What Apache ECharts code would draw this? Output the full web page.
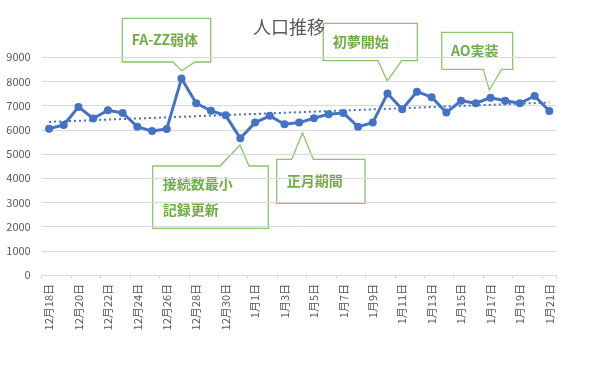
<!DOCTYPE html>
<html>
<head>
<meta charset="utf-8">
<script src="https://cdn.jsdelivr.net/npm/echarts@6/dist/echarts.min.js"></script>
<style>
html,body{margin:0;padding:0;background:#fff;}
#chart{width:594px;height:374px;}
</style>
</head>
<body>
<div id="chart"></div>
<script>
const categories = [
  '12月18日','12月19日','12月20日','12月21日','12月22日','12月23日','12月24日','12月25日','12月26日','12月27日',
  '12月28日','12月29日','12月30日','12月31日','1月1日','1月2日','1月3日','1月4日','1月5日','1月6日',
  '1月7日','1月8日','1月9日','1月10日','1月11日','1月12日','1月13日','1月14日','1月15日','1月16日',
  '1月17日','1月18日','1月19日','1月20日','1月21日'
];
const population = [
  6050, 6200, 6950, 6470, 6810, 6700, 6130, 5950, 6040, 8120,
  7100, 6790, 6600, 5650, 6300, 6580, 6230, 6300, 6480, 6650,
  6700, 6130, 6300, 7500, 6850, 7580, 7350, 6720, 7200, 7100,
  7330, 7200, 7100, 7400, 6780
];
// linear trendline endpoints
const trendEnds = [6330, 7130];
const yTicks = [0, 1000, 2000, 3000, 4000, 5000, 6000, 7000, 8000, 9000];

const green = '#70AD47';
const border = '#8CC46A';
const cjk = '"Noto Sans CJK JP", "Noto Sans", sans-serif';

function callout(points, texts) {
  const children = [{
    type: 'polygon',
    shape: { points: points },
    style: { fill: '#fff', stroke: border, lineWidth: 1.3 }
  }];
  texts.forEach(t => children.push({
    type: 'text',
    x: t[0], y: t[1],
    style: { text: t[2], fill: green, font: 'bold 14px ' + cjk, textVerticalAlign: 'middle', textAlign: 'left' }
  }));
  return { type: 'group', children: children, z: 100 };
}

const chart = echarts.init(document.getElementById('chart'), null, { renderer: 'canvas' });
chart.setOption({
  animation: false,
  backgroundColor: '#fff',
  title: {
    text: '人口推移',
    left: 248,
    top: 13,
    textStyle: { color: '#595959', fontSize: 18, fontWeight: 'normal', fontFamily: cjk }
  },
  grid: { left: 41.7, right: 37.3, top: 57.3, bottom: 99 },
  xAxis: {
    type: 'category',
    data: categories,
    boundaryGap: true,
    axisLine: { lineStyle: { color: '#d9d9d9', width: 1 } },
    axisTick: { show: true, interval: 1, length: 4, lineStyle: { color: '#d9d9d9' } },
    axisLabel: { interval: 1, rotate: 90, color: '#595959', fontSize: 11, margin: 9, fontFamily: cjk }
  },
  yAxis: {
    type: 'value',
    min: yTicks[0],
    max: yTicks[yTicks.length - 1],
    interval: 1000,
    axisLine: { show: false },
    axisTick: { show: false },
    axisLabel: { color: '#595959', fontSize: 11, margin: 11, fontFamily: cjk, formatter: v => String(v) },
    splitLine: { lineStyle: { color: '#d9d9d9', width: 1 } }
  },
  series: [{
    type: 'line',
    data: population,
    symbol: 'circle',
    symbolSize: 8,
    lineStyle: { color: '#4472C4', width: 3 },
    itemStyle: { color: '#4472C4' },
    z: 3,
    markLine: {
      silent: true,
      symbol: ['none', 'none'],
      label: { show: false },
      lineStyle: { color: '#4472C4', width: 2, type: [2, 3] },
      data: [[
        { coord: [categories[0], trendEnds[0]] },
        { coord: [categories[categories.length - 1], trendEnds[1]] }
      ]]
    }
  }],
  graphic: [
    callout([[122.3,18.3],[210.7,18.3],[210.7,62],[195,62],[181.7,70.7],[173,62],[122.3,62]],
            [[131.7,40,'FA-ZZ弱体']]),
    callout([[323.3,23.3],[417.3,23.3],[417.3,60.7],[401.7,60.7],[387.3,81],[378,60.7],[323.3,60.7]],
            [[332.7,41.7,'初夢開始']]),
    callout([[441.7,32.3],[512.7,32.3],[512.7,69.3],[501.7,69.3],[489.3,90],[483.3,69.3],[441.7,69.3]],
            [[451,50.7,'AO実装']]),
    callout([[152.7,166],[220,166],[240,145],[249,166],[268.3,166],[268.3,228.3],[152.7,228.3]],
            [[162.7,183.3,'接続数最小'],[162.7,209.3,'記録更新']]),
    callout([[276.7,159.3],[291.7,159.3],[302.5,133],[313.3,159.3],[365,159.3],[365,203.3],[276.7,203.3]],
            [[286.7,180.7,'正月期間']])
  ]
});
</script>
</body>
</html>
